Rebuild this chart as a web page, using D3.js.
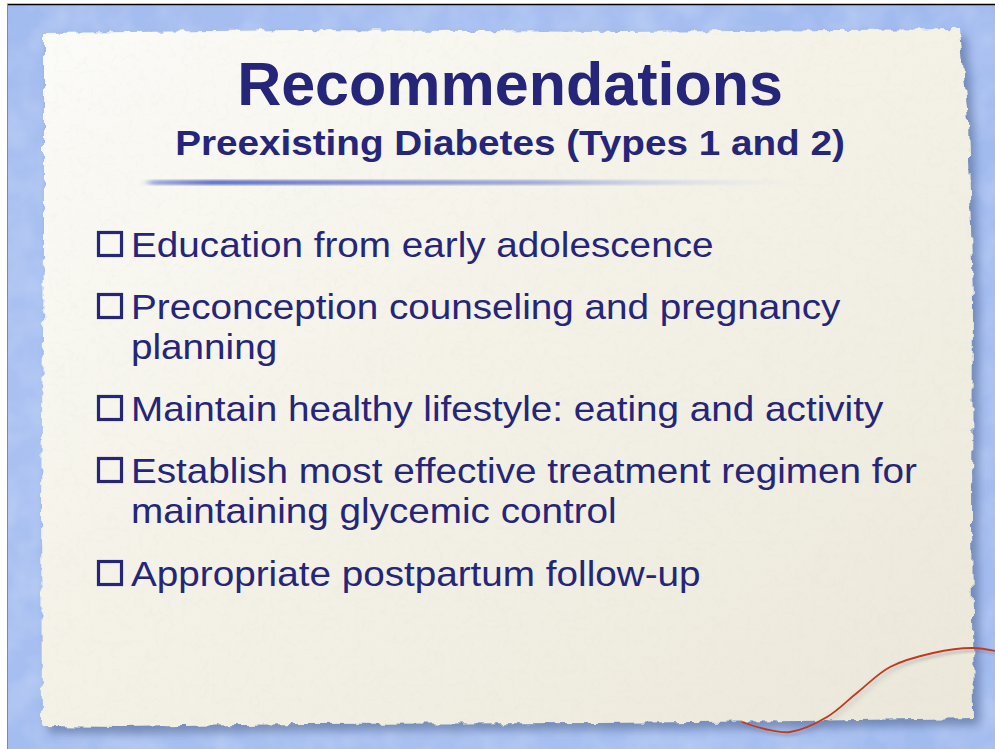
<!DOCTYPE html>
<html>
<head>
<meta charset="utf-8">
<script src="https://cdn.jsdelivr.net/npm/d3@7"></script>
<style>
  html, body { margin: 0; padding: 0; background: #fff; }
  svg { display: block; }
</style>
</head>
<body>
<div id="slide"></div>
<script>
// slide text
var title = "Recommendations";
var subtitle = "Preexisting Diabetes (Types 1 and 2)";
// each bullet is a list of wrapped lines
var bullets = [
  ["Education from early adolescence"],
  ["Preconception counseling and pregnancy", "planning"],
  ["Maintain healthy lifestyle: eating and activity"],
  ["Establish most effective treatment regimen for", "maintaining glycemic control"],
  ["Appropriate postpartum follow-up"]
];
// baselines of the first line of each bullet (px)
var bulletY = [257, 319, 421, 483, 586];

// red thread, points
var threadX = [742, 765, 790, 827, 858, 890, 933, 973, 1000];
var threadY = [722, 729, 732, 717, 692, 667, 653, 648, 652];

var W = 995, H = 749;
var ink = "#25257a";
var stretch = 1.105;   // the slide text is a bit wider than Arial

var svg = d3.select("#slide").append("svg")
    .attr("width", W)
    .attr("height", H);

var defs = svg.append("defs");

// blue watercolor background
var bg = defs.append("radialGradient").attr("id", "bgGrad")
    .attr("cx", "40%").attr("cy", "55%").attr("r", "80%");
bg.append("stop").attr("offset", "0%").attr("stop-color", "#b3c8f4");
bg.append("stop").attr("offset", "100%").attr("stop-color", "#9fb9ee");

var wash = defs.append("filter").attr("id", "wash")
    .attr("x", 0).attr("y", 0).attr("width", "100%").attr("height", "100%");
wash.append("feTurbulence").attr("type", "fractalNoise")
    .attr("baseFrequency", 0.03).attr("numOctaves", 3).attr("seed", 4).attr("result", "n");
wash.append("feColorMatrix").attr("in", "n").attr("type", "matrix")
    .attr("values", "0 0 0 0 1  0 0 0 0 1  0 0 0 0 1  0 0 0 0.35 -0.12")
    .attr("result", "a");
wash.append("feComposite").attr("in", "a").attr("in2", "SourceGraphic").attr("operator", "in");

// paper: rough edge + texture
var paperGrad = defs.append("linearGradient").attr("id", "paperGrad")
    .attr("x1", "0%").attr("y1", "0%").attr("x2", "100%").attr("y2", "100%");
paperGrad.append("stop").attr("offset", "0%").attr("stop-color", "#fbfbf8");
paperGrad.append("stop").attr("offset", "40%").attr("stop-color", "#f5f3e9");
paperGrad.append("stop").attr("offset", "100%").attr("stop-color", "#ebe8da");

var rough = defs.append("filter").attr("id", "rough")
    .attr("x", "-5%").attr("y", "-5%").attr("width", "110%").attr("height", "110%");
rough.append("feTurbulence").attr("type", "fractalNoise")
    .attr("baseFrequency", 0.09).attr("numOctaves", 2).attr("seed", 7).attr("result", "t");
rough.append("feDisplacementMap").attr("in", "SourceGraphic").attr("in2", "t")
    .attr("scale", 8).attr("xChannelSelector", "R").attr("yChannelSelector", "G");

var shadow = defs.append("filter").attr("id", "shadow")
    .attr("x", "-5%").attr("y", "-5%").attr("width", "115%").attr("height", "115%");
shadow.append("feGaussianBlur").attr("stdDeviation", 5);

var grain = defs.append("filter").attr("id", "grain")
    .attr("x", 0).attr("y", 0).attr("width", "100%").attr("height", "100%");
grain.append("feTurbulence").attr("type", "turbulence")
    .attr("baseFrequency", 0.07).attr("numOctaves", 3).attr("seed", 2).attr("result", "g");
grain.append("feColorMatrix").attr("in", "g").attr("type", "matrix")
    .attr("values", "0 0 0 0 0.6  0 0 0 0 0.58  0 0 0 0 0.5  0 0 0 -0.35 0.08")
    .attr("result", "ga");
grain.append("feComposite").attr("in", "ga").attr("in2", "SourceGraphic").attr("operator", "in");

// brushed blue underline
var stroke = defs.append("linearGradient").attr("id", "brush")
    .attr("x1", "0%").attr("x2", "100%").attr("y1", "0%").attr("y2", "0%");
stroke.append("stop").attr("offset", "0%").attr("stop-color", "#5a6fc8").attr("stop-opacity", 0.5);
stroke.append("stop").attr("offset", "10%").attr("stop-color", "#5466c2").attr("stop-opacity", 0.9);
stroke.append("stop").attr("offset", "60%").attr("stop-color", "#7e8fd4").attr("stop-opacity", 0.7);
stroke.append("stop").attr("offset", "100%").attr("stop-color", "#c8d0ee").attr("stop-opacity", 0);
var brushBlur = defs.append("filter").attr("id", "brushBlur");
brushBlur.append("feGaussianBlur").attr("stdDeviation", "4 1");

// slide frame
svg.append("rect").attr("x", 7).attr("y", 4).attr("width", W - 7).attr("height", H - 4)
    .attr("fill", "url(#bgGrad)");
svg.append("rect").attr("x", 7).attr("y", 4).attr("width", W - 7).attr("height", H - 4)
    .attr("fill", "#dfe8fb").attr("filter", "url(#wash)");
svg.append("line").attr("x1", 7).attr("x2", W).attr("y1", 4.5).attr("y2", 4.5)
    .attr("stroke", "#000").attr("stroke-width", 1.5);
svg.append("line").attr("x1", 7.5).attr("x2", 7.5).attr("y1", 4).attr("y2", H)
    .attr("stroke", "#8a8a8a").attr("stroke-width", 1);

// paper outline
var paperPts = [[44, 33], [300, 30], [620, 32], [960, 29], [968, 120], [973, 300],
                [972, 520], [974, 718], [800, 721], [600, 723], [300, 724], [120, 727], [42, 726],
                [41, 500], [44, 250]];
var paperPath = d3.line().curve(d3.curveLinearClosed)(paperPts);

svg.append("path").attr("d", paperPath)
    .attr("transform", "translate(6,7)")
    .attr("fill", "#4a5f8c").attr("opacity", 0.55)
    .attr("filter", "url(#shadow)");
var paper = svg.append("g").attr("filter", "url(#rough)");
paper.append("path").attr("d", paperPath).attr("fill", "url(#paperGrad)");
paper.append("path").attr("d", paperPath).attr("fill", "#fff").attr("filter", "url(#grain)");

// underline stroke
svg.append("rect").attr("x", 148).attr("y", 180).attr("width", 650).attr("height", 5)
    .attr("rx", 2.5)
    .attr("fill", "url(#brush)").attr("filter", "url(#brushBlur)");

// title
svg.append("text")
    .attr("transform", "translate(510,105)")
    .attr("text-anchor", "middle")
    .attr("font-family", "Liberation Sans, Arial, sans-serif")
    .attr("font-weight", "bold")
    .attr("font-size", 61)
    .attr("fill", ink)
    .text(title);

svg.append("text")
    .attr("transform", "translate(510,155) scale(" + stretch + ",1)")
    .attr("text-anchor", "middle")
    .attr("font-family", "Liberation Sans, Arial, sans-serif")
    .attr("font-weight", "bold")
    .attr("font-size", 35)
    .attr("fill", ink)
    .text(subtitle);

// bullets
var items = svg.append("g").selectAll("g")
    .data(bullets)
    .join("g")
    .attr("transform", function(d, i) { return "translate(0," + bulletY[i] + ")"; });

items.append("rect")
    .attr("x", 98.5).attr("y", -24.5)
    .attr("width", 23).attr("height", 23)
    .attr("fill", "none").attr("stroke", ink).attr("stroke-width", 3.2);

items.selectAll("text")
    .data(function(d) { return d; })
    .join("text")
    .attr("transform", function(d, j) { return "translate(131," + (j * 40) + ") scale(" + stretch + ",1)"; })
    .attr("font-family", "Liberation Sans, Arial, sans-serif")
    .attr("font-size", 35)
    .attr("fill", ink)
    .text(function(d) { return d; });

// red thread
var threadPts = threadX.map(function(x, i) { return [x, threadY[i]]; });
svg.append("path")
    .attr("d", d3.line().curve(d3.curveCatmullRom)(threadPts.map(function(p) { return [p[0] + 2, p[1] + 3]; })))
    .attr("fill", "none").attr("stroke", "#6b6f80").attr("stroke-opacity", 0.35)
    .attr("stroke-width", 2.5).attr("filter", "url(#brushBlur)");
svg.append("path")
    .attr("d", d3.line().curve(d3.curveCatmullRom)(threadPts))
    .attr("fill", "none").attr("stroke", "#c23a1e").attr("stroke-width", 1.8);
</script>
</body>
</html>
